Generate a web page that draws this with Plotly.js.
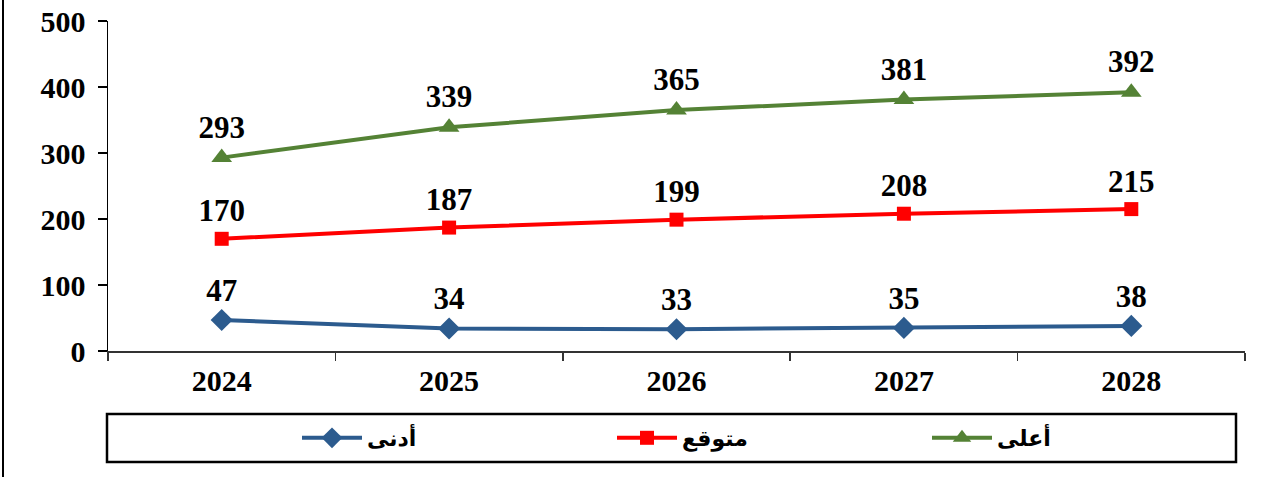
<!DOCTYPE html>
<html>
<head>
<meta charset="utf-8">
<script src="https://cdn.plot.ly/plotly-3.0.1.min.js"></script>
<style>html,body{margin:0;padding:0;background:#fff;}#chart{width:1277px;height:477px;}</style>
</head>
<body>
<div id="chart"></div>
<script>
const years = ['2024', '2025', '2026', '2027', '2028'];
const lowName = 'أدنى';
const midName = 'متوقع';
const highName = 'أعلى';
const lowValues = [47, 34, 33, 35, 38];
const midValues = [170, 187, 199, 208, 215];
const highValues = [293, 339, 365, 381, 392];

const serif = '"Liberation Serif", "Times New Roman", "DejaVu Serif", serif';
const labelFont = {family: serif, size: 31, color: '#000', weight: 'bold'};

function series(name, vals, color, symbol, msize) {
  return {
    type: 'scatter', mode: 'lines+markers+text', name: name,
    x: years, y: vals, text: vals.map(String),
    textposition: 'top center', textfont: labelFont,
    line: {color: color, width: 4},
    marker: {color: color, symbol: symbol, size: msize},
    cliponaxis: false, hoverinfo: 'skip'
  };
}

const data = [
  series(lowName, lowValues, '#2C5B8E', 'diamond', 17),
  series(midName, midValues, '#FF0000', 'square', 14),
  series(highName, highValues, '#548235', 'triangle-up', 18)
];

const L = 108, R = 32, T = 21, B = 126, W = 1277, H = 477;
const pw = W - L - R, ph = H - T - B;
const px = v => (v - L) / pw;
const py = v => (H - B - v) / ph;

const layout = {
  width: W, height: H,
  margin: {l: L, r: R, t: T, b: B, pad: 0, autoexpand: false},
  paper_bgcolor: '#fff', plot_bgcolor: '#fff',
  showlegend: true,
  font: {family: serif, color: '#000'},
  xaxis: {
    type: 'category', range: [-0.5, 4.5], showgrid: false, zeroline: false,
    showline: true, linecolor: '#333', linewidth: 1.5,
    ticks: 'outside', tickson: 'boundaries', ticklen: 8, tickcolor: '#333', tickwidth: 1.5,
    tickfont: {family: serif, size: 30, color: '#000', weight: 'bold'},
    ticklabelstandoff: 2, fixedrange: true, automargin: false
  },
  yaxis: {
    range: [0, 500], dtick: 100, tick0: 0, showgrid: false, zeroline: false,
    showline: true, linecolor: '#000', linewidth: 1.5,
    ticks: 'outside', ticklen: 9, tickcolor: '#000', tickwidth: 1.5,
    tickfont: {family: serif, size: 30, color: '#000', weight: 'bold'},
    ticklabelstandoff: 6, fixedrange: true, automargin: false
  },
  legend: {
    orientation: 'h', x: px(297), xanchor: 'left', y: py(438), yanchor: 'middle',
    entrywidth: 240, entrywidthmode: 'pixels', itemwidth: 60,
    bgcolor: 'rgba(0,0,0,0)', borderwidth: 0,
    font: {family: serif + ', "DejaVu Sans"', size: 22, color: '#000', weight: 'bold'},
    traceorder: 'normal'
  },
  shapes: [
    {type: 'rect', xref: 'paper', yref: 'paper', x0: px(107), x1: px(1236), y0: py(414), y1: py(462),
     line: {color: '#000', width: 2.5}, fillcolor: 'rgba(0,0,0,0)'},
    {type: 'line', xref: 'paper', yref: 'paper', x0: px(3), x1: px(3), y0: py(0), y1: py(477),
     line: {color: '#000', width: 2}}
  ]
};

Plotly.newPlot('chart', data, layout, {displayModeBar: false, staticPlot: true});
</script>
</body>
</html>
